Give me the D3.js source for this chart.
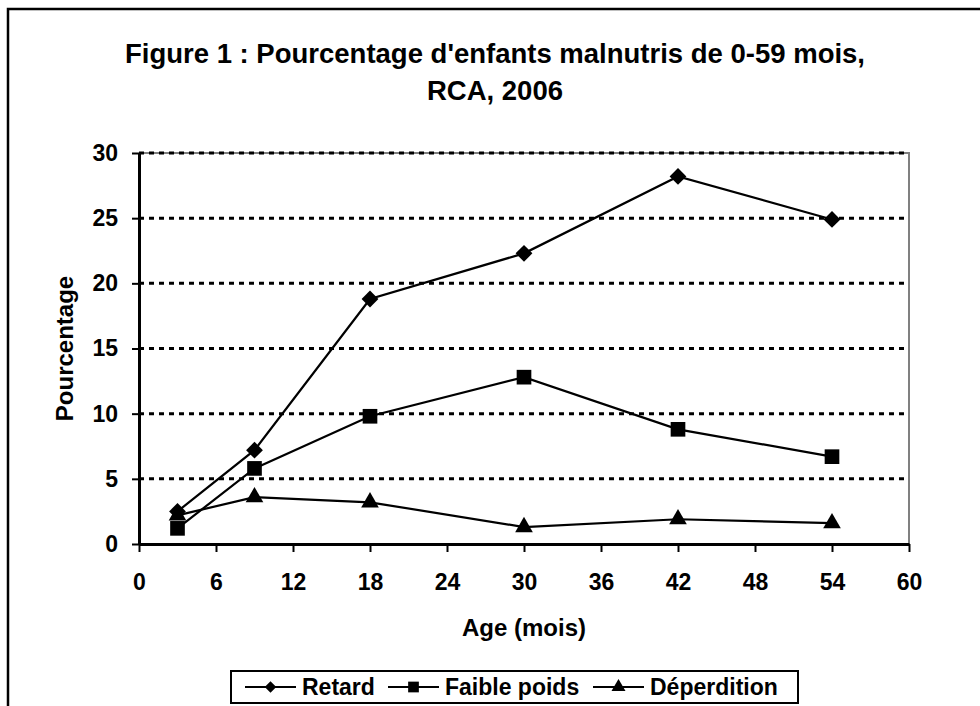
<!DOCTYPE html>
<html>
<head>
<meta charset="utf-8">
<script src="https://cdn.jsdelivr.net/npm/d3@7"></script>
<style>
  body { margin: 0; background: #fff; }
  svg text { font-family: "Liberation Sans", Arial, sans-serif; font-weight: bold; fill: #000; }
</style>
</head>
<body>
<div id="chart"></div>
<script>
var ages = [3, 9, 18, 30, 42, 54];
var retard = [2.5, 7.2, 18.8, 22.3, 28.2, 24.9];
var faiblePoids = [1.2, 5.8, 9.8, 12.8, 8.8, 6.7];
var deperdition = [2.2, 3.6, 3.2, 1.3, 1.9, 1.6];
var seriesNames = ["Retard", "Faible poids", "Déperdition"];
var xTicks = [0, 6, 12, 18, 24, 30, 36, 42, 48, 54, 60];
var yTicks = [0, 5, 10, 15, 20, 25, 30];

var width = 980, height = 706;
var margin = {left: 139, top: 153, right: 71, bottom: 162};

var svg = d3.select("#chart").append("svg")
    .attr("width", width).attr("height", height);

// outer frame, runs off the right and bottom edges
svg.append("rect")
    .attr("x", 8).attr("y", 9)
    .attr("width", 1000).attr("height", 1000)
    .attr("fill", "#fff").attr("stroke", "#000").attr("stroke-width", 2.5);

var x = d3.scaleLinear().domain([0, 60]).range([margin.left, width - margin.right]);
var y = d3.scaleLinear().domain([0, 30]).range([height - margin.bottom, margin.top]);

// title
var title = svg.append("text").attr("text-anchor", "middle").style("font-size", "27.5px");
title.append("tspan").attr("x", 495).attr("y", 63).text("Figure 1 : Pourcentage d'enfants malnutris de 0-59 mois,");
title.append("tspan").attr("x", 495).attr("y", 100).text("RCA, 2006");

// plot border, top and right in grey
svg.append("path")
    .attr("d", "M" + x(0) + "," + y(30) + "H" + x(60) + "V" + y(0))
    .attr("fill", "none").attr("stroke", "#808080").attr("stroke-width", 2);

// gridlines
svg.append("g").selectAll("line")
    .data(yTicks.filter(function(d){ return d > 0; }))
    .enter().append("line")
    .attr("x1", x(0)).attr("x2", x(60))
    .attr("y1", function(d){ return y(d); })
    .attr("y2", function(d){ return y(d); })
    .attr("stroke", "#000").attr("stroke-width", 3)
    .attr("stroke-dasharray", "5,5");

// axes
var yAxis = svg.append("g")
    .attr("transform", "translate(" + x(0) + ",0)")
    .call(d3.axisLeft(y).tickValues(yTicks).tickSize(7).tickPadding(14).tickSizeOuter(0));
var xAxis = svg.append("g")
    .attr("transform", "translate(0," + y(0) + ")")
    .call(d3.axisBottom(x).tickValues(xTicks).tickSize(8).tickPadding(22).tickSizeOuter(0));
[xAxis, yAxis].forEach(function(a){
    a.select(".domain").attr("stroke", "#000").attr("stroke-width", 3);
    a.selectAll(".tick line").attr("stroke", "#000").attr("stroke-width", 2);
    a.selectAll("text").style("font-size", "23px").style("font-family", "'Liberation Sans', Arial, sans-serif");
});

// axis titles
svg.append("text")
    .attr("x", x(30)).attr("y", 636)
    .attr("text-anchor", "middle").style("font-size", "24px")
    .text("Age (mois)");
svg.append("text")
    .attr("transform", "translate(73," + y(15) + ") rotate(-90)")
    .attr("text-anchor", "middle").style("font-size", "24px")
    .text("Pourcentage");

// series
var data = [retard, faiblePoids, deperdition];
var symbols = [
    d3.symbol().type(d3.symbolDiamond2).size(180),
    d3.symbol().type(d3.symbolSquare).size(215),
    d3.symbol().type(d3.symbolTriangle).size(135)
];
var line = d3.line()
    .x(function(d, i){ return x(ages[i]); })
    .y(function(d){ return y(d); });

data.forEach(function(vals, s){
    svg.append("path")
        .datum(vals)
        .attr("d", line)
        .attr("fill", "none").attr("stroke", "#000").attr("stroke-width", 2.2);
    svg.append("g").selectAll("path")
        .data(vals)
        .enter().append("path")
        .attr("transform", function(d, i){ return "translate(" + x(ages[i]) + "," + y(d) + ")"; })
        .attr("d", symbols[s])
        .attr("fill", "#000");
});

// legend
var legend = svg.append("g");
legend.append("rect")
    .attr("x", 231).attr("y", 671).attr("width", 567).attr("height", 32)
    .attr("fill", "#fff").attr("stroke", "#000").attr("stroke-width", 2);
var legendX = [245, 388, 593];
var legendSymbols = [
    d3.symbol().type(d3.symbolDiamond2).size(85),
    d3.symbol().type(d3.symbolSquare).size(115),
    d3.symbol().type(d3.symbolTriangle).size(85)
];
seriesNames.forEach(function(name, i){
    var g = legend.append("g").attr("transform", "translate(" + legendX[i] + ",687)");
    g.append("line").attr("x1", 0).attr("x2", 51).attr("stroke", "#000").attr("stroke-width", 2);
    g.append("path").attr("transform", "translate(25.5,0)").attr("d", legendSymbols[i]).attr("fill", "#000");
    g.append("text").attr("x", 57).attr("y", 8).style("font-size", "23px").text(name);
});
</script>
</body>
</html>
